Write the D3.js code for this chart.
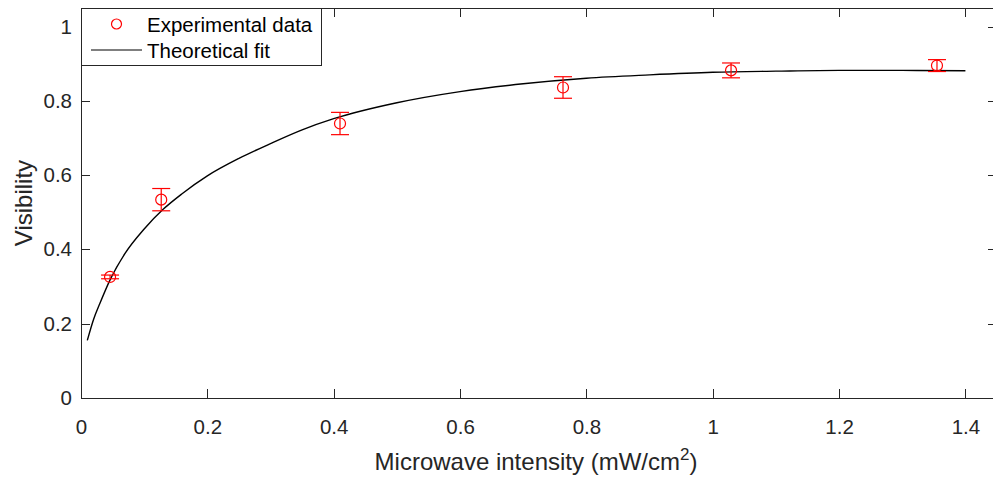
<!DOCTYPE html>
<html>
<head>
<meta charset="utf-8">
<script src="https://cdn.jsdelivr.net/npm/d3@7/dist/d3.min.js"></script>
<style>
  body { margin: 0; background: #fff; }
  svg { display: block; font-family: "Liberation Sans", Arial, sans-serif; }
</style>
</head>
<body>
<svg id="chart" width="993" height="477"></svg>
<script>
// ---- data ----
const expX   = [0.046, 0.127, 0.410, 0.763, 1.029, 1.355];
const expY   = [0.326, 0.534, 0.739, 0.836, 0.882, 0.895];
const expErr = [0.005, 0.030, 0.030, 0.029, 0.020, 0.016];

const fitX = [0.01, 0.02, 0.03, 0.046, 0.07, 0.10, 0.13, 0.16, 0.20, 0.25, 0.30, 0.35, 0.40, 0.50, 0.60, 0.70, 0.80, 0.90, 1.00, 1.10, 1.20, 1.30, 1.40];
const fitY = [0.155, 0.212, 0.255, 0.318, 0.390, 0.455, 0.508, 0.550, 0.598, 0.645, 0.685, 0.722, 0.752, 0.795, 0.825, 0.846, 0.861, 0.870, 0.877, 0.880, 0.882, 0.882, 0.881];

const xTicks = [0, 0.2, 0.4, 0.6, 0.8, 1, 1.2, 1.4];
const yTicks = [0, 0.2, 0.4, 0.6, 0.8, 1];
const legendLabels = ["Experimental data", "Theoretical fit"];

// ---- layout ----
const svg = d3.select("#chart");
const L = 81, R = 997, T = 8, B = 398;
const axisColor = "#262626";

const x = d3.scaleLinear().domain([0, 1.45]).range([L, R]);
const y = d3.scaleLinear().domain([0, 1.05]).range([B, T]);

const g = svg.append("g");

// bottom axis labels
const xAxis = d3.axisBottom(x).tickValues(xTicks).tickSize(0).tickPadding(21)
  .tickFormat(d => d3.format("~g")(d));
const gx = g.append("g").attr("transform", `translate(0,${B})`).call(xAxis);
gx.select(".domain").remove();
gx.selectAll("text").attr("fill", axisColor).style("font-size", "20.5px");

// left axis labels
const yAxis = d3.axisLeft(y).tickValues(yTicks).tickSize(0).tickPadding(9)
  .tickFormat(d => d3.format("~g")(d));
const gy = g.append("g").attr("transform", `translate(${L},0)`).call(yAxis);
gy.select(".domain").remove();
gy.selectAll("text").attr("fill", axisColor).style("font-size", "20.5px");

// axis box
const lineStyle = sel => sel.attr("stroke", axisColor).attr("stroke-width", 1).attr("shape-rendering", "crispEdges");
g.append("line").attr("x1", L).attr("x2", R).attr("y1", B + 0.5).attr("y2", B + 0.5).call(lineStyle);
g.append("line").attr("x1", L).attr("x2", R).attr("y1", T + 0.5).attr("y2", T + 0.5).call(lineStyle);
g.append("line").attr("x1", L + 0.5).attr("x2", L + 0.5).attr("y1", T).attr("y2", B).call(lineStyle);
g.append("line").attr("x1", R - 0.5).attr("x2", R - 0.5).attr("y1", T).attr("y2", B).call(lineStyle);

// inward ticks
const tl = 9;
xTicks.forEach(t => {
  const px = Math.round(x(t)) + 0.5;
  g.append("line").attr("x1", px).attr("x2", px).attr("y1", B).attr("y2", B - tl).call(lineStyle);
  g.append("line").attr("x1", px).attr("x2", px).attr("y1", T).attr("y2", T + tl).call(lineStyle);
});
yTicks.forEach(t => {
  const py = Math.round(y(t)) + 0.5;
  g.append("line").attr("x1", L).attr("x2", L + tl).attr("y1", py).attr("y2", py).call(lineStyle);
  g.append("line").attr("x1", R).attr("x2", R - tl).attr("y1", py).attr("y2", py).call(lineStyle);
});

// fit curve
const fitData = fitX.map((d, i) => [d, fitY[i]]);
g.append("path").datum(fitData)
  .attr("fill", "none").attr("stroke", "#000").attr("stroke-width", 1.4)
  .attr("d", d3.line().x(d => x(d[0])).y(d => y(d[1])).curve(d3.curveMonotoneX));

// experimental points with error bars
const red = "#ff0000";
const cap = 9;
const pts = expX.map((d, i) => ({ x: d, y: expY[i], e: expErr[i] }));
const pg = g.append("g").attr("stroke", red).attr("fill", "none").attr("stroke-width", 1.2);
pts.forEach(p => {
  const cx = x(p.x), y1 = y(p.y + p.e), y0 = y(p.y - p.e);
  pg.append("line").attr("x1", cx).attr("x2", cx).attr("y1", y1).attr("y2", y0);
  pg.append("line").attr("x1", cx - cap).attr("x2", cx + cap).attr("y1", y1).attr("y2", y1);
  pg.append("line").attr("x1", cx - cap).attr("x2", cx + cap).attr("y1", y0).attr("y2", y0);
  pg.append("circle").attr("cx", cx).attr("cy", y(p.y)).attr("r", 5.5);
});

// legend
const lg = svg.append("g");
lg.append("rect").attr("x", L + 0.5).attr("y", T + 0.5).attr("width", 240).attr("height", 57)
  .attr("fill", "#fff").attr("stroke", axisColor).attr("stroke-width", 1);
lg.append("circle").attr("cx", 116.5).attr("cy", 24).attr("r", 5).attr("fill", "none").attr("stroke", red).attr("stroke-width", 1.2);
lg.append("line").attr("x1", 91).attr("x2", 142).attr("y1", 50).attr("y2", 50).attr("stroke", "#000").attr("stroke-width", 1.2);
lg.append("text").attr("x", 147).attr("y", 31.5).text(legendLabels[0]).attr("fill", "#000").style("font-size", "20.5px");
lg.append("text").attr("x", 147).attr("y", 57.5).text(legendLabels[1]).attr("fill", "#000").style("font-size", "20.5px");

// axis labels
const xl = svg.append("text").attr("x", (L + R) / 2 - 3).attr("y", 470).attr("text-anchor", "middle")
  .attr("fill", axisColor).style("font-size", "24px");
xl.append("tspan").text("Microwave intensity (mW/cm");
xl.append("tspan").text("2").attr("dy", -10).style("font-size", "17px");
xl.append("tspan").text(")").attr("dy", 10);

svg.append("text").attr("transform", `translate(32,${(T + B) / 2}) rotate(-90)`)
  .attr("text-anchor", "middle").attr("fill", axisColor).style("font-size", "24px").text("Visibility");
</script>
</body>
</html>
